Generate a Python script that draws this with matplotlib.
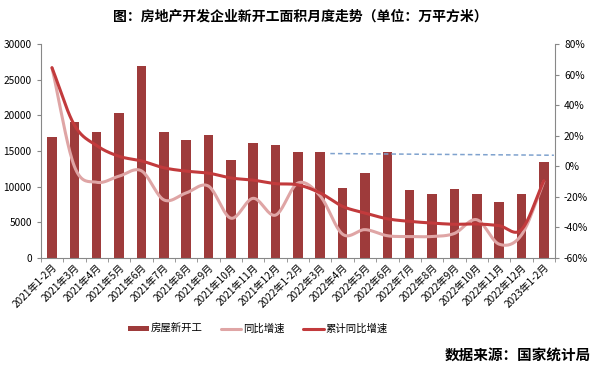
import matplotlib
matplotlib.use('Agg')
import matplotlib.pyplot as plt
import numpy as np
from matplotlib.ticker import FuncFormatter

plt.rcParams['font.family'] = ['Noto Sans CJK SC', 'DejaVu Sans']

# Months
months = ['2021年1-2月', '2021年3月', '2021年4月', '2021年5月', '2021年6月', '2021年7月',
          '2021年8月', '2021年9月', '2021年10月', '2021年11月', '2021年12月', '2022年1-2月',
          '2022年3月', '2022年4月', '2022年5月', '2022年6月', '2022年7月', '2022年8月',
          '2022年9月', '2022年10月', '2022年11月', '2022年12月', '2023年1-2月']

# New starts (10k m2)
new_starts = [17000, 19100, 17700, 20300, 26900, 17600, 16500, 17300, 13800, 16100, 15900, 14900,
              14850, 9800, 11900, 14800, 9500, 9000, 9700, 8900, 7900, 8900, 13500]

# Monthly YoY (%)
yoy = [64.5, 0, -10.5, -6.5, -3, -22, -17.5, -13, -34, -21, -32, -11,
       -19.5, -44.5, -41.5, -45.5, -46, -46, -44, -35, -51, -45, -10]

# Cumulative YoY (%)
cum_yoy = [64.5, 27, 13.5, 6.5, 3.5, -1, -3.2, -4.5, -7.7, -9.1, -11.4, -12.2,
           -17.5, -26.3, -30.6, -34.4, -36.1, -37.2, -38.0, -37.8, -38.9, -41.5, -9.5]

# dashed reference level (% on right axis), from 2022-4 to the end
ref_level = [8.3, 7.2]


def smooth(xs, ys, n=20):
    # Catmull-Rom curve through the points (like Excel smoothed lines)
    xs = np.asarray(xs, float)
    ys = np.asarray(ys, float)
    px = np.concatenate([[2 * xs[0] - xs[1]], xs, [2 * xs[-1] - xs[-2]]])
    py = np.concatenate([[2 * ys[0] - ys[1]], ys, [2 * ys[-1] - ys[-2]]])
    ox, oy = [], []
    for i in range(1, len(px) - 2):
        t = np.linspace(0, 1, n, endpoint=False)
        for arr, out in ((px, ox), (py, oy)):
            p0, p1, p2, p3 = arr[i - 1], arr[i], arr[i + 1], arr[i + 2]
            out.extend(0.5 * ((2 * p1) + (-p0 + p2) * t +
                              (2 * p0 - 5 * p1 + 4 * p2 - p3) * t ** 2 +
                              (-p0 + 3 * p1 - 3 * p2 + p3) * t ** 3))
    ox.append(xs[-1])
    oy.append(ys[-1])
    return np.array(ox), np.array(oy)


bar_color = '#9E3B3B'
pink = '#DFA5A5'
red = '#C23A3C'
grey = '#888888'

fig = plt.figure(figsize=(6, 3.7), dpi=100)
ax = fig.add_axes([0.068, 0.303, 0.857, 0.578])
ax2 = ax.twinx()

x = np.arange(len(months))
ax.bar(x, new_starts, width=0.43, color=bar_color, zorder=2, label='房屋新开工')

sx, sy = smooth(x, yoy)
ax2.plot(sx, sy, color=pink, lw=2.2, solid_capstyle='round', label='同比增速', zorder=3)
sx, sy = smooth(x, cum_yoy)
ax2.plot(sx, sy, color=red, lw=2.2, solid_capstyle='round', label='累计同比增速', zorder=4)
ax2.plot([12.45, 22.45], ref_level, color='#7FA2CE', lw=1.1, ls=(0, (3, 2)), zorder=2)

ax.set_xlim(-0.5, 22.5)
ax.set_ylim(0, 30000)
ax.set_yticks(range(0, 30001, 5000))
ax2.set_ylim(-60, 80)
ax2.set_yticks(range(-60, 81, 20))
ax2.yaxis.set_major_formatter(FuncFormatter(lambda v, p: '%d%%' % v))

ax.set_xticks(x)
ax.set_xticks(np.arange(-0.5, 23, 1), minor=True)
ax.set_xticklabels(months, rotation=45, ha='right', rotation_mode='anchor', fontsize=7.3)
ax.tick_params(axis='x', which='major', length=0, pad=3)
ax.tick_params(axis='x', which='minor', length=3, color=grey)

for a in (ax, ax2):
    a.spines['top'].set_visible(False)
    for s in ('left', 'right', 'bottom'):
        a.spines[s].set_color(grey)
        a.spines[s].set_linewidth(0.8)
    a.tick_params(axis='y', labelsize=7.3, length=3, color=grey)
ax.spines['right'].set_visible(False)
ax2.spines['left'].set_visible(False)
ax2.spines['bottom'].set_visible(False)

h1, l1 = ax.get_legend_handles_labels()
h2, l2 = ax2.get_legend_handles_labels()
fig.legend(h1 + h2, l1 + l2, loc='center', bbox_to_anchor=(0.43, 0.111), ncol=3,
           frameon=False, fontsize=7.5, handlelength=2.0, handleheight=0.4,
           columnspacing=1.7, handletextpad=0.2)

fig.text(0.5, 0.955, '图：房地产开发企业新开工面积月度走势（单位：万平方米）',
         ha='center', va='center', fontsize=10, fontweight='bold')
fig.text(0.985, 0.04, '数据来源：国家统计局', ha='right', va='center',
         fontsize=10.5, fontweight='bold')

fig.savefig('out.png', dpi=100)
